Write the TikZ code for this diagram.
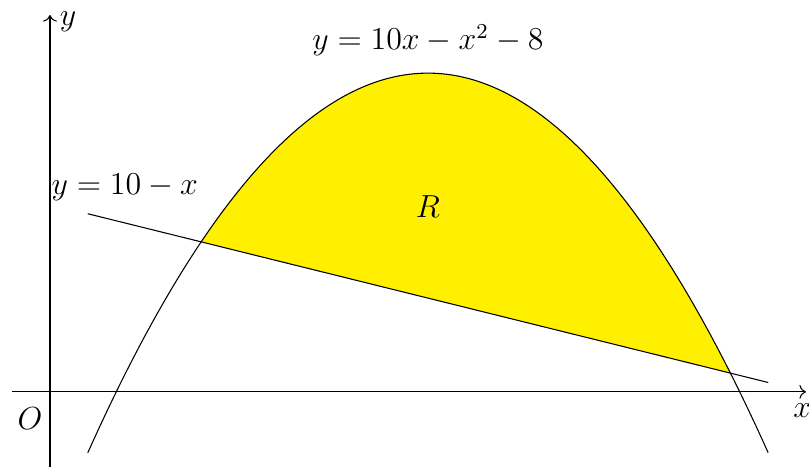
\documentclass[tikz,border=0pt]{standalone}
\usepackage{amsmath,amssymb}
\usepackage{xcolor}
\usetikzlibrary{arrows.meta,positioning}

\definecolor{regionyellow}{RGB}{255,240,0}

\begin{document}
\begin{tikzpicture}[
  x=1cm, y=0.248cm,
  axis/.style={->, thin},
  curve/.style={thin, smooth, samples=120},
  region/.style={fill=regionyellow},
  lbl/.style={inner sep=1pt, font=\large}
]
  \useasboundingbox (-0.661,-4.1) rectangle (10.04,20.9);

  % shaded region between the curves
  \fill[region] plot[curve, domain=2:9] (\x,{10*\x-\x*\x-8}) -- cycle;

  % axes
  \coordinate (xl) at (-0.5,0);
  \coordinate (xr) at (10,0);
  \coordinate (yb) at (0,-4);
  \coordinate (yt) at (0,20.1);
  \draw[axis] (xl) -- (xr);
  \draw[axis] (yb) -- (yt);

  % curves
  \draw[curve] plot[domain=0.5:9.5] (\x,{10*\x-\x*\x-8});
  \draw[thin] (0.5,9.5) -- (9.5,0.5);

  % labels
  \node[lbl] (xlab) at (9.95,-1.0) {$x$};
  \node[lbl] (ylab) at (0.24,19.75) {$y$};
  \node[lbl] (olab) at (-0.265,-1.4) {$O$};
  \node[lbl] (parab) at (5,18.76) {$y = 10x - x^2 - 8$};
  \node[lbl] (lineq) at (0.99,10.93) {$y = 10 - x$};
  \node[lbl] (rlab) at (5,9.86) {$R$};
\end{tikzpicture}
\end{document}
